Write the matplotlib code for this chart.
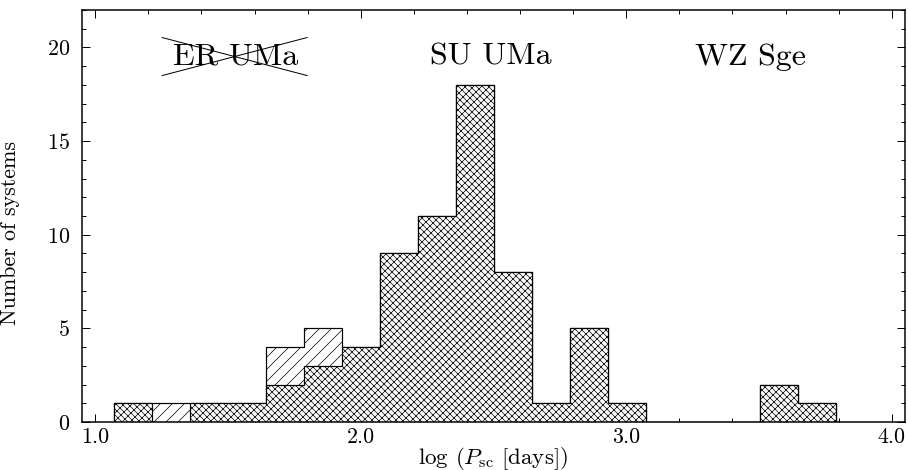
import numpy as np
import matplotlib
matplotlib.use("Agg")
import matplotlib.pyplot as plt
from matplotlib.ticker import MultipleLocator, FormatStrFormatter

# donnees
bin_start = 1.0715
bin_width = 0.143
counts_all = [1, 1, 1, 1, 4, 5, 4, 9, 11, 18, 8, 1, 5, 1, 0, 0, 0, 2, 1]
counts_sub = [1, 0, 1, 1, 2, 3, 4, 9, 11, 18, 8, 1, 5, 1, 0, 0, 0, 2, 1]
class_names = ["ER UMa", "SU UMa", "WZ Sge"]
class_x = [1.527, 2.49, 3.469]

edges = bin_start + bin_width * np.arange(len(counts_all) + 1)

plt.rcParams["font.family"] = "cmr10"
plt.rcParams["mathtext.fontset"] = "cm"
plt.rcParams["axes.formatter.use_mathtext"] = True
plt.rcParams["hatch.linewidth"] = 0.7

fig = plt.figure(figsize=(909 / 72, 470 / 72), dpi=72)
ax = fig.add_axes([0.0902, 0.1021, 0.9054, 0.8766])

ax.stairs(counts_all, edges, fill=True, facecolor="white", edgecolor="black",
          hatch="//", linewidth=1.2, zorder=3)
ax.stairs(counts_sub, edges, fill=True, facecolor="white", edgecolor="black",
          hatch="///\\\\\\\\", linewidth=1.2, zorder=4)

for name, x in zip(class_names, class_x):
    ax.text(x, 19.5, name, ha="center", va="center", fontsize=32)

# ER UMa barre
ax.plot([1.252, 1.798], [20.53, 18.5], color="black", lw=1.0)
ax.plot([1.252, 1.798], [18.5, 20.53], color="black", lw=1.0)

ax.set_xlim(0.95, 4.05)
ax.set_ylim(0, 22)
ax.xaxis.set_major_locator(MultipleLocator(1.0))
ax.xaxis.set_minor_locator(MultipleLocator(0.2))
ax.xaxis.set_major_formatter(FormatStrFormatter("%.1f"))
ax.yaxis.set_major_locator(MultipleLocator(5))
ax.yaxis.set_minor_locator(MultipleLocator(1))
ax.tick_params(which="both", direction="in", top=True, right=True,
               labelsize=22, width=1.0)
ax.tick_params(which="major", length=8)
ax.tick_params(which="minor", length=4)
ax.tick_params(axis="x", which="major", pad=5)
ax.tick_params(axis="y", which="major", pad=12)
for s in ax.spines.values():
    s.set_linewidth(1.5)
    s.set_zorder(5)

ax.set_xlabel(r"log ($P_{\rm sc}$ [days])", fontsize=23, labelpad=-2)
ax.set_ylabel("Number of systems", fontsize=22)
ax.yaxis.set_label_coords(-0.0753, 0.459)

fig.savefig("out.png", dpi=72)
